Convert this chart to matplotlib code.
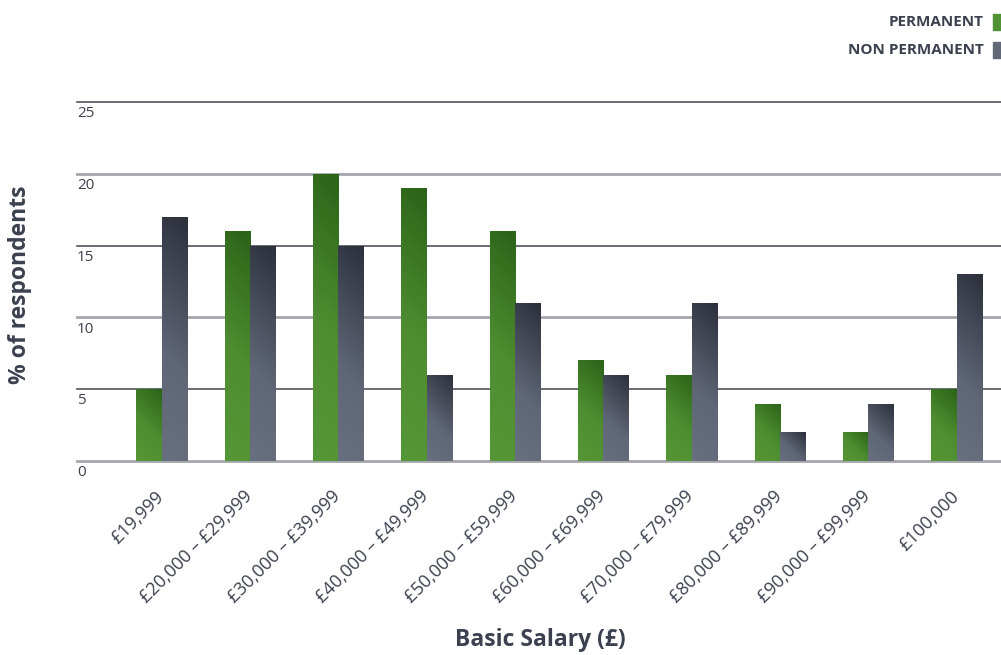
import matplotlib.pyplot as plt
import numpy as np
from matplotlib.colors import LinearSegmentedColormap

plt.rcParams['font.family'] = ['Open Sans', 'DejaVu Sans']

categories = ["£19,999", "£20,000 – £29,999", "£30,000 – £39,999", "£40,000 – £49,999",
              "£50,000 – £59,999", "£60,000 – £69,999", "£70,000 – £79,999",
              "£80,000 – £89,999", "£90,000 – £99,999", "£100,000"]
permanent = [5, 16, 20, 19, 16, 7, 6, 4, 2, 5]
non_permanent = [17, 15, 15, 6, 11, 6, 11, 2, 4, 13]
y_ticks = [0, 5, 10, 15, 20, 25]

TEXT = "#3c4150"
GREEN = LinearSegmentedColormap.from_list(
    "green", [(0, "#559636"), (0.45, "#4e8e31"), (1, "#2b6318")])
GREY = LinearSegmentedColormap.from_list(
    "grey", [(0, "#687080"), (0.4, "#5f6676"), (1, "#2b303b")])

PX_PER_UNIT = (461 - 102) / 25
PX_PER_GROUP = 88.3


def gradient_bars(ax, xs, heights, width, cmap):
    bars = ax.bar(xs, heights, width, color="none", edgecolor="none", zorder=3)
    u = np.linspace(0, 1, 80)
    for rect in bars:
        x0, w, h = rect.get_x(), rect.get_width(), rect.get_height()
        # diagonal shading in screen space: light bottom-left, dark top-right
        wp, hp = w * PX_PER_GROUP, h * PX_PER_UNIT
        t = np.add.outer(u * hp, u * wp) / (wp + hp)
        im = ax.imshow(t, cmap=cmap, vmin=0, vmax=1, origin="lower", aspect="auto",
                       extent=(x0, x0 + w, 0, h), interpolation="bilinear", zorder=3)
        im.set_clip_path(rect)
    return bars


fig = plt.figure(figsize=(10.01, 6.55), dpi=100)
ax = fig.add_axes([77 / 1001, (655 - 461) / 655, 1 - 77 / 1001, (461 - 102) / 655])

x = np.arange(len(categories))
w = 0.289
gradient_bars(ax, x - w / 2, permanent, w, GREEN)
gradient_bars(ax, x + w / 2, non_permanent, w, GREY)

ax.set_xlim(-0.96, 9.5)
ax.set_ylim(0, 25)
for s in ax.spines.values():
    s.set_visible(False)
ax.set_yticks([])
ax.set_xticks([])

for v in y_ticks:
    light = v % 10 == 0
    ax.axhline(v, color="#a3a6ad" if light else "#4f535e", lw=2.0 if light else 1.2,
               zorder=2, clip_on=False)
    ax.annotate(str(v), xy=(0, v), xycoords=("axes fraction", "data"),
                xytext=(0, -3), textcoords="offset points", ha="left", va="top",
                fontsize=11, color=TEXT)

for xi, lab in zip(x, categories):
    ax.annotate(lab, xy=(xi, 0), xycoords="data", xytext=(-5, -19),
                textcoords="offset points", rotation=45, rotation_mode="anchor",
                ha="right", va="top", fontsize=13, color=TEXT)

fig.text(20 / 1001, 1 - 285 / 655, "% of respondents", rotation=90, ha="center",
         va="center", fontsize=16.5, fontweight="bold", color=TEXT)
fig.text(540 / 1001, 1 - 640 / 655, "Basic Salary (£)", ha="center", va="center",
         fontsize=16.5, fontweight="bold", color=TEXT)

# legend in the top-right corner
for i, (lab, cmap) in enumerate([("PERMANENT", GREEN), ("NON PERMANENT", GREY)]):
    yc = 1 - (22 + 28 * i) / 655
    fig.text(984 / 1001, yc, lab, ha="right", va="center", fontsize=11,
             fontweight="bold", color=TEXT)
    fig.patches.append(plt.Rectangle((993 / 1001, yc - 8 / 655), 8 / 1001, 16 / 655,
                                     transform=fig.transFigure, color=cmap(0.3)))

fig.savefig("out.png", dpi=100)
